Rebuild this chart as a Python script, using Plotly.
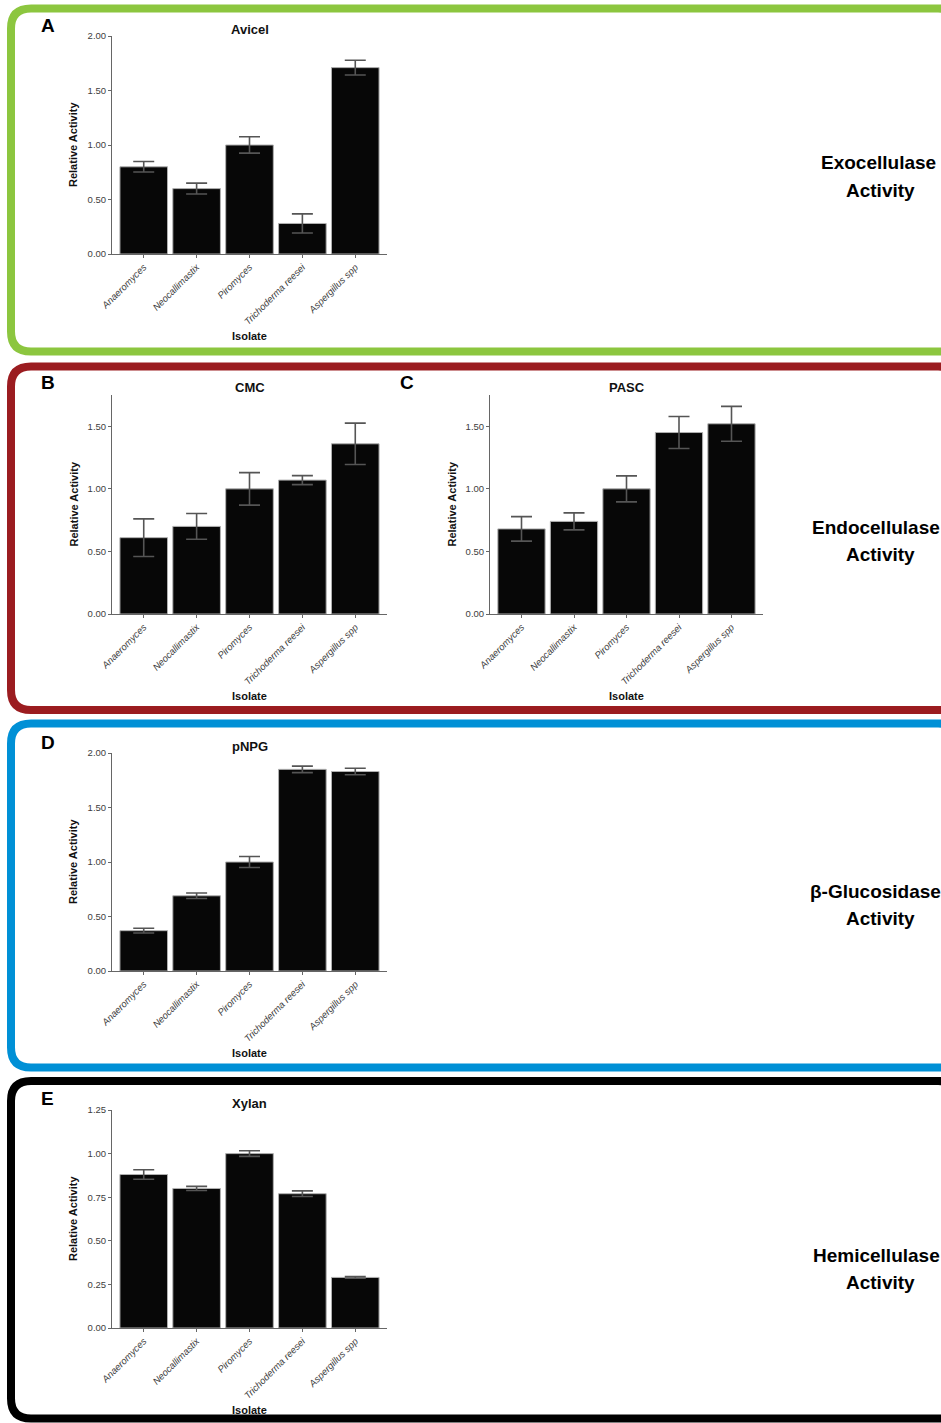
import plotly.graph_objects as go

W, H = 941, 1423

isolates = ["Anaeromyces", "Neocallimastix", "Piromyces", "Trichoderma reesei", "Aspergillus spp"]

avicel = [0.80, 0.60, 1.00, 0.28, 1.71]
avicel_err = [0.048, 0.050, 0.075, 0.088, 0.068]
cmc = [0.61, 0.70, 1.00, 1.07, 1.36]
cmc_err = [0.150, 0.103, 0.130, 0.036, 0.165]
pasc = [0.68, 0.74, 1.00, 1.45, 1.52]
pasc_err = [0.098, 0.068, 0.104, 0.128, 0.139]
pnpg = [0.37, 0.69, 1.00, 1.85, 1.83]
pnpg_err = [0.022, 0.025, 0.050, 0.030, 0.030]
xylan = [0.88, 0.80, 1.00, 0.77, 0.29]
xylan_err = [0.027, 0.012, 0.016, 0.016, 0.005]

ticks_2 = [0, 0.5, 1.0, 1.5, 2.0]
ticks_175 = [0, 0.5, 1.0, 1.5]
ticks_125 = [0, 0.25, 0.5, 0.75, 1.0, 1.25]

FONT = "Arial, Liberation Sans, sans-serif"


def X(px):
    return px / W


def Y(py):
    return 1 - py / H


# (title, values, errors, ymax, tickvals, left, right, top, bottom, letter, letter_x, letter_y)
panels = [
    ("Avicel", avicel, avicel_err, 2.0, ticks_2, 112, 387, 36, 254, "A", 48, 25),
    ("CMC", cmc, cmc_err, 1.75, ticks_175, 112, 387, 395, 614, "B", 48, 383),
    ("PASC", pasc, pasc_err, 1.75, ticks_175, 490, 763, 395, 614, "C", 407, 383),
    ("pNPG", pnpg, pnpg_err, 2.0, ticks_2, 112, 387, 753, 971, "D", 48, 742),
    ("Xylan", xylan, xylan_err, 1.25, ticks_125, 112, 387, 1110, 1328, "E", 47, 1098),
]

fig = go.Figure()
annotations = []
layout_axes = {}

for i, (title, vals, errs, ymax, tv, l, r, t, b, letter, lx, ly) in enumerate(panels, start=1):
    xa = "x" if i == 1 else f"x{i}"
    ya = "y" if i == 1 else f"y{i}"
    fig.add_trace(go.Bar(
        x=isolates, y=vals,
        xaxis=xa, yaxis=ya,
        width=0.9,
        marker=dict(color="#070707", line=dict(color="#b0b0b0", width=1)),
        error_y=dict(type="data", array=errs, visible=True, color="#555555",
                     thickness=1.6, width=10.5),
        showlegend=False,
    ))
    xkey = "xaxis" if i == 1 else f"xaxis{i}"
    ykey = "yaxis" if i == 1 else f"yaxis{i}"
    layout_axes[xkey] = dict(
        domain=[X(l), X(r)], anchor=ya,
        type="category", categoryorder="array", categoryarray=isolates,
        range=[-0.6, 4.6],
        showline=True, linecolor="#666666", linewidth=1,
        ticks="outside", ticklen=3, tickcolor="#666666", tickwidth=1,
        tickangle=-45, automargin=False,
        tickfont=dict(family=FONT, size=9.5, color="#3d3d3d", style="italic"),
        showgrid=False, zeroline=False, fixedrange=True,
    )
    layout_axes[ykey] = dict(
        domain=[Y(b), Y(t)], anchor=xa,
        range=[0, ymax], automargin=False,
        tickvals=tv, ticktext=[f"{v:.2f}" for v in tv],
        showline=True, linecolor="#666666", linewidth=1,
        ticks="outside", ticklen=3, tickcolor="#666666", tickwidth=1,
        tickfont=dict(family=FONT, size=9.5, color="#3d3d3d"),
        showgrid=False, zeroline=False, fixedrange=True,
    )
    cx = (l + r) / 2
    annotations.append(dict(text=f"<b>{title}</b>", x=X(cx), y=Y(t - 7), xref="paper", yref="paper",
                            showarrow=False, xanchor="center", yanchor="middle",
                            font=dict(family=FONT, size=13, color="#111111")))
    annotations.append(dict(text=f"<b>{letter}</b>", x=X(lx), y=Y(ly), xref="paper", yref="paper",
                            showarrow=False, xanchor="center", yanchor="middle",
                            font=dict(family=FONT, size=19, color="#000000")))
    annotations.append(dict(text="<b>Relative Activity</b>", x=X(l - 39), y=Y((t + b) / 2),
                            xref="paper", yref="paper", showarrow=False, textangle=-90,
                            xanchor="center", yanchor="middle",
                            font=dict(family=FONT, size=11, color="#111111")))
    annotations.append(dict(text="<b>Isolate</b>", x=X(cx), y=Y(b + 82), xref="paper", yref="paper",
                            showarrow=False, xanchor="center", yanchor="middle",
                            font=dict(family=FONT, size=11, color="#111111")))

side_labels = [
    ("Exocellulase", 163, 878),
    ("Endocellulase", 527, 876),
    ("\u03b2-Glucosidase", 891, 875),
    ("Hemicellulase", 1255, 876),
]
for txt, yy, xx in side_labels:
    annotations.append(dict(text=f"<b>{txt}</b>", x=X(xx), y=Y(yy), xref="paper", yref="paper",
                            showarrow=False, xanchor="center", yanchor="middle",
                            font=dict(family=FONT, size=19, color="#000000")))
    annotations.append(dict(text="<b>Activity</b>", x=X(880), y=Y(yy + 27), xref="paper", yref="paper",
                            showarrow=False, xanchor="center", yanchor="middle",
                            font=dict(family=FONT, size=19, color="#000000")))


def rrect(x0, y0, x1, y1, rad):
    return (f"M {X(x0 + rad)},{Y(y0)} L {X(x1 - rad)},{Y(y0)} "
            f"Q {X(x1)},{Y(y0)} {X(x1)},{Y(y0 + rad)} L {X(x1)},{Y(y1 - rad)} "
            f"Q {X(x1)},{Y(y1)} {X(x1 - rad)},{Y(y1)} L {X(x0 + rad)},{Y(y1)} "
            f"Q {X(x0)},{Y(y1)} {X(x0)},{Y(y1 - rad)} L {X(x0)},{Y(y0 + rad)} "
            f"Q {X(x0)},{Y(y0)} {X(x0 + rad)},{Y(y0)} Z")


boxes = [
    (8.5, 351.5, "#8cc63f"),
    (366.5, 710, "#9b1c20"),
    (723.5, 1067.5, "#0090d6"),
    (1081, 1418.5, "#000000"),
]
shapes = []
for top, bot, col in boxes:
    shapes.append(dict(type="path", path=rrect(11, top, 958, bot, 20), xref="paper", yref="paper",
                       line=dict(color=col, width=8), fillcolor="rgba(0,0,0,0)", layer="below"))

fig.update_layout(
    width=W, height=H, autosize=False,
    margin=dict(l=0, r=0, t=0, b=0, pad=0, autoexpand=False),
    paper_bgcolor="white", plot_bgcolor="white",
    bargap=0.1,
    showlegend=False,
    annotations=annotations,
    shapes=shapes,
    font=dict(family=FONT),
    **layout_axes,
)

post = ("var s=document.createElement('style');"
        "s.innerHTML='html,body{margin:0 !important;padding:0 !important;overflow:hidden;}';"
        "document.head.appendChild(s);")

fig.write_html("out.html", config={"displayModeBar": False, "responsive": False},
               post_script=post)
